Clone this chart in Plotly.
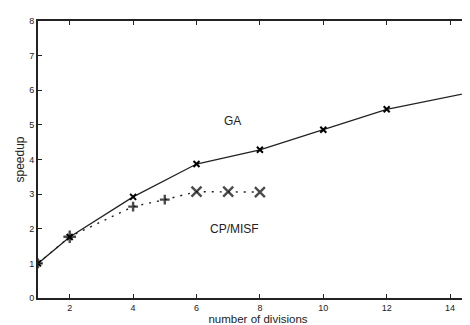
import plotly.graph_objects as go

# GA speedup
ga_x = [1, 2, 4, 6, 8, 10, 12, 16]
ga_y = [1.0, 1.76, 2.92, 3.87, 4.28, 4.86, 5.45, 6.19]

# CP/MISF speedup
cp_x = [1, 2, 4, 5, 6, 7, 8]
cp_y = [1.0, 1.77, 2.64, 2.84, 3.07, 3.07, 3.06]
cp_symbols = ["cross-thin", "cross-thin", "cross-thin", "cross-thin", "x-thin", "x-thin", "x-thin"]
cp_sizes = [7, 9, 7, 7, 10, 10, 10]

x_ticks = [2, 4, 6, 8, 10, 12, 14]
y_ticks = [0, 1, 2, 3, 4, 5, 6, 7, 8]

fig = go.Figure()
fig.add_trace(go.Scatter(
    x=cp_x, y=cp_y, mode="lines+markers",
    line=dict(color="#222", width=1.4, dash="2px,6px"),
    marker=dict(symbol=cp_symbols, size=cp_sizes, color="#000",
                line=dict(color="#000", width=2.4)),
    showlegend=False))
fig.add_trace(go.Scatter(
    x=ga_x, y=ga_y, mode="lines+markers",
    line=dict(color="#222", width=1.3),
    marker=dict(symbol="x-thin", size=6, color="#000",
                line=dict(color="#000", width=2)),
    showlegend=False))

fig.add_annotation(x=7.15, y=5.12, text="GA", showarrow=False,
                   font=dict(size=12, color="#222", family="Liberation Sans, Arial"))
fig.add_annotation(x=7.21, y=1.99, text="CP/MISF", showarrow=False,
                   font=dict(size=12, color="#222", family="Liberation Sans, Arial"))

fig.update_layout(
    width=470, height=325,
    margin=dict(l=30, r=0, t=13, b=35),
    paper_bgcolor="white", plot_bgcolor="white",
    font=dict(family="Liberation Sans, Arial", color="#222"),
)
fig.update_xaxes(
    range=[1, 14.88], tickvals=x_ticks, ticktext=[str(v) for v in x_ticks],
    ticks="inside", ticklen=4, tickwidth=1.2, tickcolor="#222",
    showline=True, linecolor="#222", linewidth=2, mirror="ticks",
    showgrid=False, zeroline=False,
    tickfont=dict(size=9, color="#222"),
    title=dict(text="number of divisions", font=dict(size=11.5, color="#222"), standoff=0),
)
fig.update_yaxes(
    range=[0, 8], tickvals=y_ticks, ticktext=[str(v) for v in y_ticks],
    ticks="inside", ticklen=4, tickwidth=1.2, tickcolor="#222",
    showline=True, linecolor="#222", linewidth=2, mirror=False,
    showgrid=False, zeroline=False,
    tickfont=dict(size=9, color="#222"),
    title=dict(text="speedup", font=dict(size=12, color="#222"), standoff=2),
)

fig.write_html("out.html")
